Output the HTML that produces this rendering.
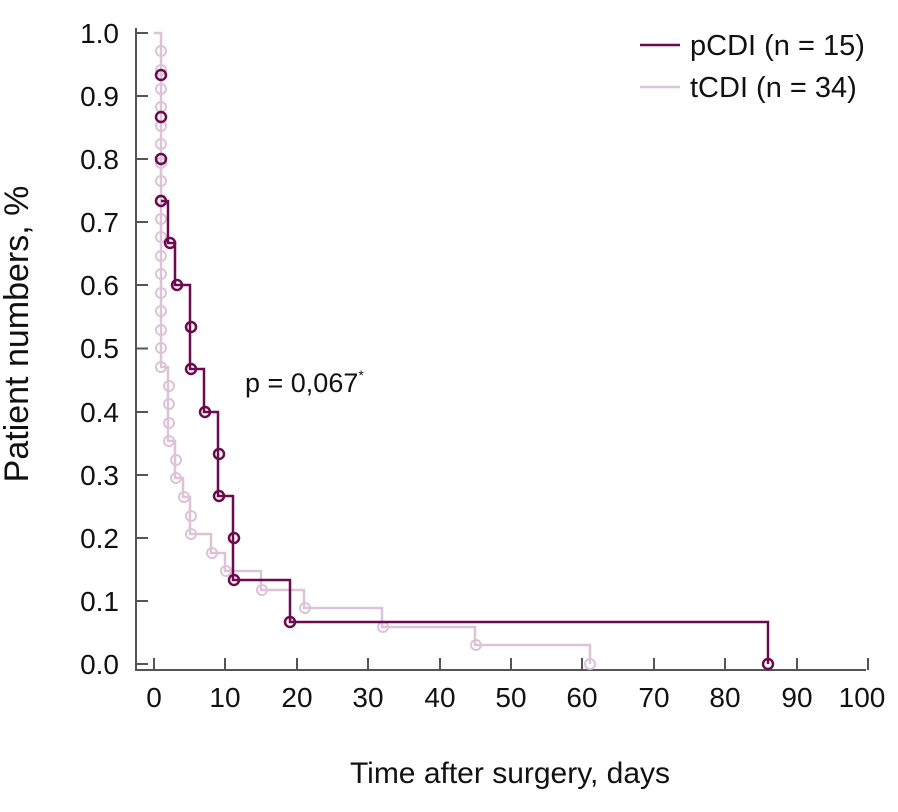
<!DOCTYPE html>
<html><head><meta charset="utf-8"><style>
body{margin:0;background:#fff;}
svg{display:block;font-family:"Liberation Sans",sans-serif;}
</style></head><body>
<svg width="898" height="812" viewBox="0 0 898 812" xmlns="http://www.w3.org/2000/svg">
<g stroke="#555" stroke-width="2" fill="none">
<path d="M136,28 V670 H866"/>
<path d="M136,33 H148 M136,96 H148 M136,159 H148 M136,222 H148 M136,285 H148 M136,348.5 H148 M136,412 H148 M136,475 H148 M136,538 H148 M136,601 H148 M136,664 H148"/>
<path d="M154,670 V658 M225,670 V658 M297,670 V658 M368,670 V658 M440,670 V658 M511,670 V658 M582,670 V658 M654,670 V658 M725,670 V658 M797,670 V658 M868,670 V658"/>
</g>
<g font-size="28" fill="#111" text-anchor="end">
<text x="119" y="43">1.0</text><text x="119" y="106">0.9</text><text x="119" y="169">0.8</text><text x="119" y="232">0.7</text><text x="119" y="295">0.6</text><text x="119" y="358">0.5</text><text x="119" y="422">0.4</text><text x="119" y="485">0.3</text><text x="119" y="548">0.2</text><text x="119" y="611">0.1</text><text x="119" y="674">0.0</text>
</g>
<g font-size="28" fill="#111" text-anchor="middle">
<text x="154" y="707">0</text><text x="225" y="707">10</text><text x="297" y="707">20</text><text x="368" y="707">30</text><text x="440" y="707">40</text><text x="511" y="707">50</text><text x="582" y="707">60</text><text x="654" y="707">70</text><text x="725" y="707">80</text><text x="797" y="707">90</text><text x="862" y="707">100</text>
<text x="510" y="783" font-size="30">Time after surgery, days</text>
<text transform="translate(28,334) rotate(-90)" font-size="34">Patient numbers, %</text>
</g>
<text x="245" y="392" font-size="27" fill="#111">p = 0,067<tspan font-size="14" dy="-12">*</tspan></text>
<g stroke="#dcc3d8" stroke-width="2.5" fill="none">
<path d="M154,33 H161 V367 H168 V441 H175 V478 H183 V497 H190 V534 H211 V553 H225 V571 H261 V590 H304 V608 H382 V627 H475 V645 H590 V664"/>
<g stroke-width="2">
<circle cx="161" cy="51" r="5"/><circle cx="161" cy="70" r="5"/><circle cx="161" cy="89" r="5"/><circle cx="161" cy="107" r="5"/><circle cx="161" cy="126" r="5"/><circle cx="161" cy="144" r="5"/><circle cx="161" cy="163" r="5"/><circle cx="161" cy="181" r="5"/><circle cx="161" cy="200" r="5"/><circle cx="161" cy="219" r="5"/><circle cx="161" cy="237" r="5"/><circle cx="161" cy="256" r="5"/><circle cx="161" cy="274" r="5"/><circle cx="161" cy="293" r="5"/><circle cx="161" cy="311" r="5"/><circle cx="161" cy="330" r="5"/><circle cx="161" cy="348" r="5"/><circle cx="161" cy="367" r="5"/>
<circle cx="169" cy="386" r="5"/><circle cx="169" cy="404" r="5"/><circle cx="169" cy="423" r="5"/><circle cx="169" cy="441" r="5"/>
<circle cx="176" cy="460" r="5"/><circle cx="176" cy="478" r="5"/><circle cx="184" cy="497" r="5"/><circle cx="191" cy="516" r="5"/><circle cx="191" cy="534" r="5"/>
<circle cx="212" cy="553" r="5"/><circle cx="226" cy="571" r="5"/><circle cx="262" cy="590" r="5"/><circle cx="305" cy="608" r="5"/><circle cx="383" cy="627" r="5"/><circle cx="476" cy="645" r="5"/><circle cx="590" cy="664" r="5"/>
</g></g>
<g stroke="#6b0a4e" stroke-width="2.5" fill="none">
<path d="M161,201 V201 H168 V243 H175 V285 H190 V369 H204 V412 H218 V496 H233 V580 H290 V622 H768 V664"/>
<circle cx="161" cy="75" r="5"/><circle cx="161" cy="117" r="5"/><circle cx="161" cy="159" r="5"/><circle cx="161" cy="201" r="5"/><circle cx="170" cy="243" r="5"/><circle cx="177" cy="285" r="5"/><circle cx="191" cy="327" r="5"/><circle cx="191" cy="369" r="5"/><circle cx="205" cy="412" r="5"/><circle cx="219" cy="454" r="5"/><circle cx="219" cy="496" r="5"/><circle cx="234" cy="538" r="5"/><circle cx="234" cy="580" r="5"/><circle cx="290" cy="622" r="5"/><circle cx="768" cy="664" r="5"/>
</g>
<line x1="640" y1="45" x2="680" y2="45" stroke="#6b0a4e" stroke-width="2.5"/>
<line x1="640" y1="87" x2="680" y2="87" stroke="#dcc3d8" stroke-width="2.5"/>
<g font-size="29" fill="#111"><text x="690" y="55">pCDI (n = 15)</text><text x="690" y="97">tCDI (n = 34)</text></g>
</svg>
</body></html>
